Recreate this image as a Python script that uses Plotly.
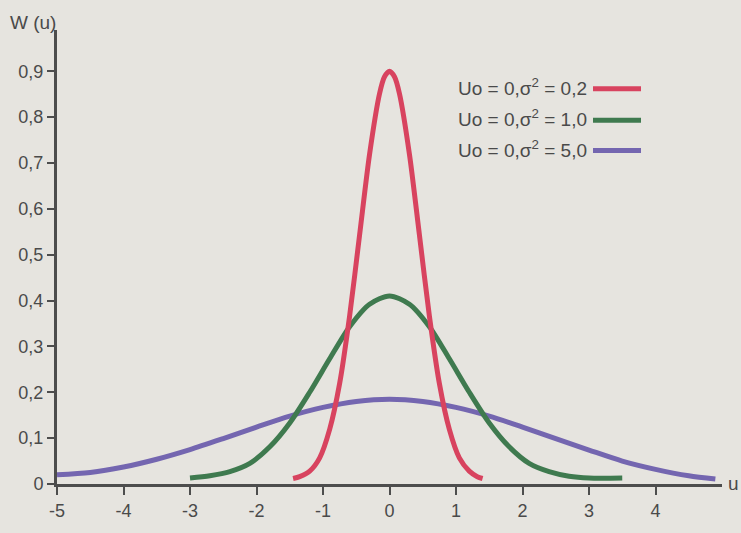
import plotly.graph_objects as go

# ---- data ----
red_x = [-1.45, -1.35, -1.2, -1.05, -0.9, -0.75, -0.6, -0.45, -0.3, -0.15, -0.075, 0, 0.075, 0.15, 0.3, 0.45, 0.6, 0.75, 0.9, 1.05, 1.2, 1.32, 1.4]
red_y = [0.012, 0.016, 0.028, 0.057, 0.119, 0.219, 0.366, 0.543, 0.719, 0.851, 0.888, 0.9, 0.888, 0.851, 0.719, 0.543, 0.366, 0.219, 0.119, 0.057, 0.028, 0.016, 0.012]

green_x = [-3.0, -2.7, -2.4, -2.1, -1.8, -1.5, -1.2, -0.9, -0.6, -0.3, 0, 0.3, 0.6, 0.9, 1.2, 1.5, 1.8, 2.1, 2.4, 2.7, 3.0, 3.5]
green_y = [0.013, 0.018, 0.027, 0.045, 0.081, 0.133, 0.2, 0.273, 0.343, 0.392, 0.41, 0.392, 0.343, 0.273, 0.2, 0.133, 0.081, 0.045, 0.027, 0.017, 0.013, 0.013]

purple_x = [-5, -4.5, -4, -3.5, -3, -2.5, -2, -1.5, -1, -0.5, 0, 0.5, 1, 1.5, 2, 2.5, 3, 3.5, 4, 4.5, 4.9]
purple_y = [0.02, 0.025, 0.037, 0.054, 0.075, 0.099, 0.124, 0.148, 0.167, 0.18, 0.185, 0.18, 0.167, 0.148, 0.124, 0.099, 0.074, 0.05, 0.032, 0.018, 0.011]

series_names = ["Uo = 0,σ<sup>2</sup> = 0,2", "Uo = 0,σ<sup>2</sup> = 1,0", "Uo = 0,σ<sup>2</sup> = 5,0"]
series_colors = ["#d8435f", "#3f7a4f", "#7466b0"]

x_ticks = [-5, -4, -3, -2, -1, 0, 1, 2, 3, 4]
x_ticktext = ["-5", "-4", "-3", "-2", "-1", "0", "1", "2", "3", "4"]
y_ticks = [0, 0.1, 0.2, 0.3, 0.4, 0.5, 0.6, 0.7, 0.8, 0.9]
y_ticktext = ["0", "0,1", "0,2", "0,3", "0,4", "0,5", "0,6", "0,7", "0,8", "0,9"]

FONT = "Liberation Sans, Arial, sans-serif"
TXT = "#4a4a4a"
AX = "#4d4d4d"
BG = "#e6e4df"

fig = go.Figure()
for xs, ys, c in [(purple_x, purple_y, series_colors[2]), (green_x, green_y, series_colors[1]), (red_x, red_y, series_colors[0])]:
    fig.add_trace(go.Scatter(x=xs, y=ys, mode="lines", line=dict(color=c, width=5, shape="spline", smoothing=0.8),
                             showlegend=False, hoverinfo="skip"))

L, R, T, B = 57, 19, 30, 40
W, H = 741, 533
pw, ph = W - L - R, H - T - B

def px_x(p):
    return (p - L) / pw

def px_y(p):
    return 1 - (p - T) / ph

legend_y = [88, 120, 151]
for name, c, ly in zip(series_names, series_colors, legend_y):
    fig.add_annotation(x=px_x(589), y=px_y(ly), xref="paper", yref="paper", text=name, showarrow=False,
                       xanchor="right", yanchor="middle", font=dict(family=FONT, size=19, color=TXT))
    fig.add_shape(type="line", xref="paper", yref="paper", x0=px_x(593), x1=px_x(641), y0=px_y(ly + 2), y1=px_y(ly + 2),
                  line=dict(color=c, width=5))

fig.add_annotation(x=px_x(33), y=px_y(22), xref="paper", yref="paper", text="W (u)", showarrow=False,
                   xanchor="center", yanchor="middle", font=dict(family=FONT, size=19, color=TXT))
fig.add_annotation(x=px_x(726), y=px_y(492), xref="paper", yref="paper", text="u", showarrow=False,
                   xanchor="left", yanchor="middle", font=dict(family=FONT, size=19, color=TXT))

fig.update_layout(
    width=W, height=H,
    margin=dict(l=L, r=R, t=T, b=B),
    paper_bgcolor=BG, plot_bgcolor=BG,
    font=dict(family=FONT, size=18, color=TXT),
    xaxis=dict(range=[-5, 5.0], tickvals=x_ticks, ticktext=x_ticktext, showgrid=False, zeroline=False,
               showline=True, linecolor=AX, linewidth=3, ticks="outside", ticklen=8, tickwidth=2, tickcolor=AX,
               tickfont=dict(family=FONT, size=18, color=TXT)),
    yaxis=dict(range=[0, 0.99], tickvals=y_ticks, ticktext=y_ticktext, showgrid=False, zeroline=False,
               showline=True, linecolor=AX, linewidth=3, ticks="outside", ticklen=7, tickwidth=2, tickcolor=AX,
               tickfont=dict(family=FONT, size=18, color=TXT)),
)

fig.write_html("out.html")
